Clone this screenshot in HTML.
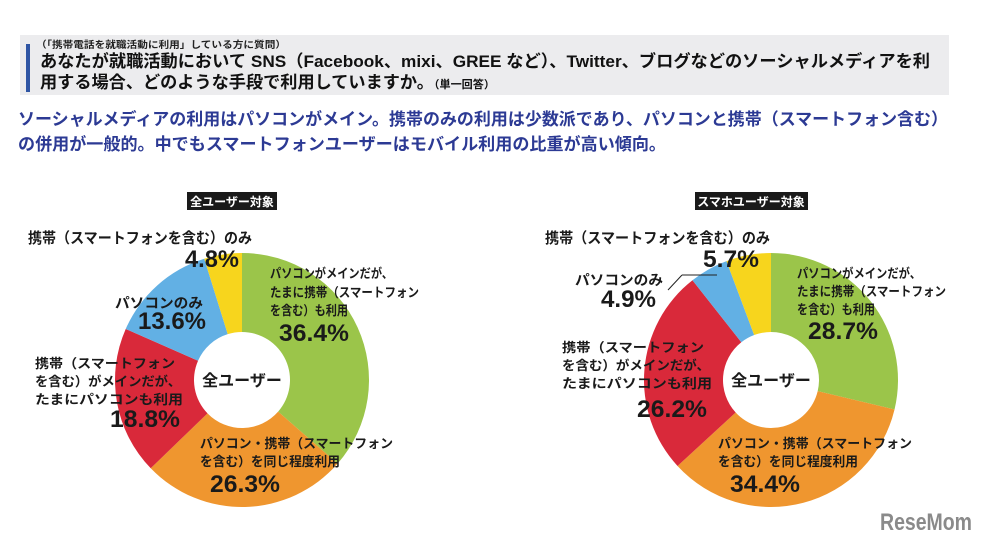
<!DOCTYPE html>
<html><head><meta charset="utf-8">
<style>
html,body{margin:0;padding:0;background:#fff;}
body{width:991px;height:543px;overflow:hidden;position:relative;font-family:"Liberation Sans","Noto Sans CJK JP",sans-serif;}
svg text{font-family:"Liberation Sans","Noto Sans CJK JP",sans-serif;font-weight:bold;}
</style></head>
<body>
<svg id="chart" width="991" height="543" viewBox="0 0 991 543" xmlns="http://www.w3.org/2000/svg">
  <rect x="20" y="35" width="929" height="60" fill="#ececee"/>
  <rect x="26" y="44" width="4" height="48" fill="#2f55a4"/>
  <text x="36" y="48" font-size="9.5" fill="#222" textLength="250" lengthAdjust="spacingAndGlyphs">（「携帯電話を就職活動に利用」している方に質問）</text>
  <text x="40" y="67" font-size="17" fill="#111" textLength="890" lengthAdjust="spacingAndGlyphs">あなたが就職活動において SNS（Facebook、mixi、GREE など）、Twitter、ブログなどのソーシャルメディアを利</text>
  <text x="40" y="88" font-size="17" fill="#111" textLength="455" lengthAdjust="spacingAndGlyphs">用する場合、どのような手段で利用していますか。<tspan font-size="11">（単一回答）</tspan></text>
  <text x="18" y="125" font-size="17" fill="#2c3a94" textLength="930" lengthAdjust="spacingAndGlyphs">ソーシャルメディアの利用はパソコンがメイン。携帯のみの利用は少数派であり、パソコンと携帯（スマートフォン含む）</text>
  <text x="18" y="150" font-size="17" fill="#2c3a94" textLength="648" lengthAdjust="spacingAndGlyphs">の併用が一般的。中でもスマートフォンユーザーはモバイル利用の比重が高い傾向。</text>

  <rect x="187" y="192" width="90" height="18" fill="#1a1a1a"/>
  <text x="232" y="206" font-size="12" fill="#fff" text-anchor="middle">全ユーザー対象</text>
  <rect x="695" y="192" width="113" height="18" fill="#1a1a1a"/>
  <text x="751" y="206" font-size="12" fill="#fff" text-anchor="middle">スマホユーザー対象</text>

  <g id="left-donut"></g>
  <g id="right-donut"></g>
  <g id="labels" fill="#1a1a1a"></g>

  <line x1="668" y1="290" x2="682" y2="275" stroke="#222" stroke-width="1"/>
  <line x1="682" y1="275" x2="717" y2="275" stroke="#222" stroke-width="1"/>

  <text x="880" y="530" font-size="24" fill="#8a8a8a" textLength="92" lengthAdjust="spacingAndGlyphs">ReseMom</text>
</svg>
<script>
const categories = ["パソコンがメインだが、たまに携帯（スマートフォンを含む）も利用","パソコン・携帯（スマートフォンを含む）を同じ程度利用","携帯（スマートフォンを含む）がメインだが、たまにパソコンも利用","パソコンのみ","携帯（スマートフォンを含む）のみ"];
const colors = ["#9bc54a","#ef962f","#d9293a","#62b0e4","#f7d51d"];
const allUsers = [36.4, 26.3, 18.8, 13.6, 4.8];
const smartUsers = [28.7, 34.4, 26.2, 4.9, 5.7];

const NS = "http://www.w3.org/2000/svg";
function pt(cx, cy, r, a){ return [cx + r*Math.sin(a), cy - r*Math.cos(a)]; }
function drawDonut(gid, values, cx, cy, R, r, prefix){
  const g = document.getElementById(gid);
  const total = values.reduce((s,v)=>s+v,0);
  let a0 = 0;
  values.forEach((v,i)=>{
    const a1 = a0 + v/total*2*Math.PI;
    const large = (a1-a0) > Math.PI ? 1 : 0;
    const [x0,y0]=pt(cx,cy,R,a0),[x1,y1]=pt(cx,cy,R,a1),[x2,y2]=pt(cx,cy,r,a1),[x3,y3]=pt(cx,cy,r,a0);
    const p = document.createElementNS(NS,"path");
    p.setAttribute("d",`M${x0},${y0}A${R},${R} 0 ${large} 1 ${x1},${y1}L${x2},${y2}A${r},${r} 0 ${large} 0 ${x3},${y3}Z`);
    p.setAttribute("fill",colors[i]);
    
    
    g.appendChild(p);
    a0 = a1;
  });
  const t = document.createElementNS(NS,"text");
  t.setAttribute("x",cx); t.setAttribute("y",cy+6);
  t.setAttribute("text-anchor","middle"); t.setAttribute("font-size","16"); t.setAttribute("fill","#1a1a1a");
  t.textContent = "全ユーザー";
  
  
  g.appendChild(t);
}
drawDonut("left-donut", allUsers, 242, 380, 127, 48, "all-users");
drawDonut("right-donut", smartUsers, 771, 380, 127, 48, "smartphone-users");

const L = document.getElementById("labels");
function txt(name, s, x, y, size, w){
  const t = document.createElementNS(NS,"text");
  t.setAttribute("x",x); t.setAttribute("y",y); t.setAttribute("font-size",size);
  if(w){ t.setAttribute("textLength",w); t.setAttribute("lengthAdjust","spacingAndGlyphs"); }
  t.textContent = s;
  
  
  L.appendChild(t);
}
function pct(v){ return v.toFixed(1) + "%"; }
// left
txt("left-mobile-only-label","携帯（スマートフォンを含む）のみ",28,243,15,224);
txt("left-mobile-only-value",pct(allUsers[4]),185,267,24,54);
txt("left-pc-main-label-1","パソコンがメインだが、",270,278,13,123);
txt("left-pc-main-label-2","たまに携帯（スマートフォン",270,297,13,149);
txt("left-pc-main-label-3","を含む）も利用",270,315,13,78);
txt("left-pc-main-value",pct(allUsers[0]),279,341,24,70);
txt("left-pc-only-label","パソコンのみ",115,308,14,88);
txt("left-pc-only-value",pct(allUsers[3]),138,329,24,68);
txt("left-mobile-main-label-1","携帯（スマートフォン",35,368,13,140);
txt("left-mobile-main-label-2","を含む）がメインだが、",35,386,13,146);
txt("left-mobile-main-label-3","たまにパソコンも利用",35,404,13,148);
txt("left-mobile-main-value",pct(allUsers[2]),110,427,24,70);
txt("left-equal-label-1","パソコン・携帯（スマートフォン",200,448,13,193);
txt("left-equal-label-2","を含む）を同じ程度利用",200,466,13,140);
txt("left-equal-value",pct(allUsers[1]),210,492,24,70);
// right
txt("right-mobile-only-label","携帯（スマートフォンを含む）のみ",545,243,15,225);
txt("right-mobile-only-value",pct(smartUsers[4]),703,267,24,56);
txt("right-pc-main-label-1","パソコンがメインだが、",797,278,13,124);
txt("right-pc-main-label-2","たまに携帯（スマートフォン",797,296,13,149);
txt("right-pc-main-label-3","を含む）も利用",797,314,13,78);
txt("right-pc-main-value",pct(smartUsers[0]),808,339,24,70);
txt("right-pc-only-label","パソコンのみ",575,285,14,88);
txt("right-pc-only-value",pct(smartUsers[3]),601,307,24,55);
txt("right-mobile-main-label-1","携帯（スマートフォン",562,352,13,142);
txt("right-mobile-main-label-2","を含む）がメインだが、",562,370,13,148);
txt("right-mobile-main-label-3","たまにパソコンも利用",562,388,13,150);
txt("right-mobile-main-value",pct(smartUsers[2]),637,417,24,70);
txt("right-equal-label-1","パソコン・携帯（スマートフォン",718,448,13,194);
txt("right-equal-label-2","を含む）を同じ程度利用",718,466,13,140);
txt("right-equal-value",pct(smartUsers[1]),730,492,24,70);
</script>
</body></html>
